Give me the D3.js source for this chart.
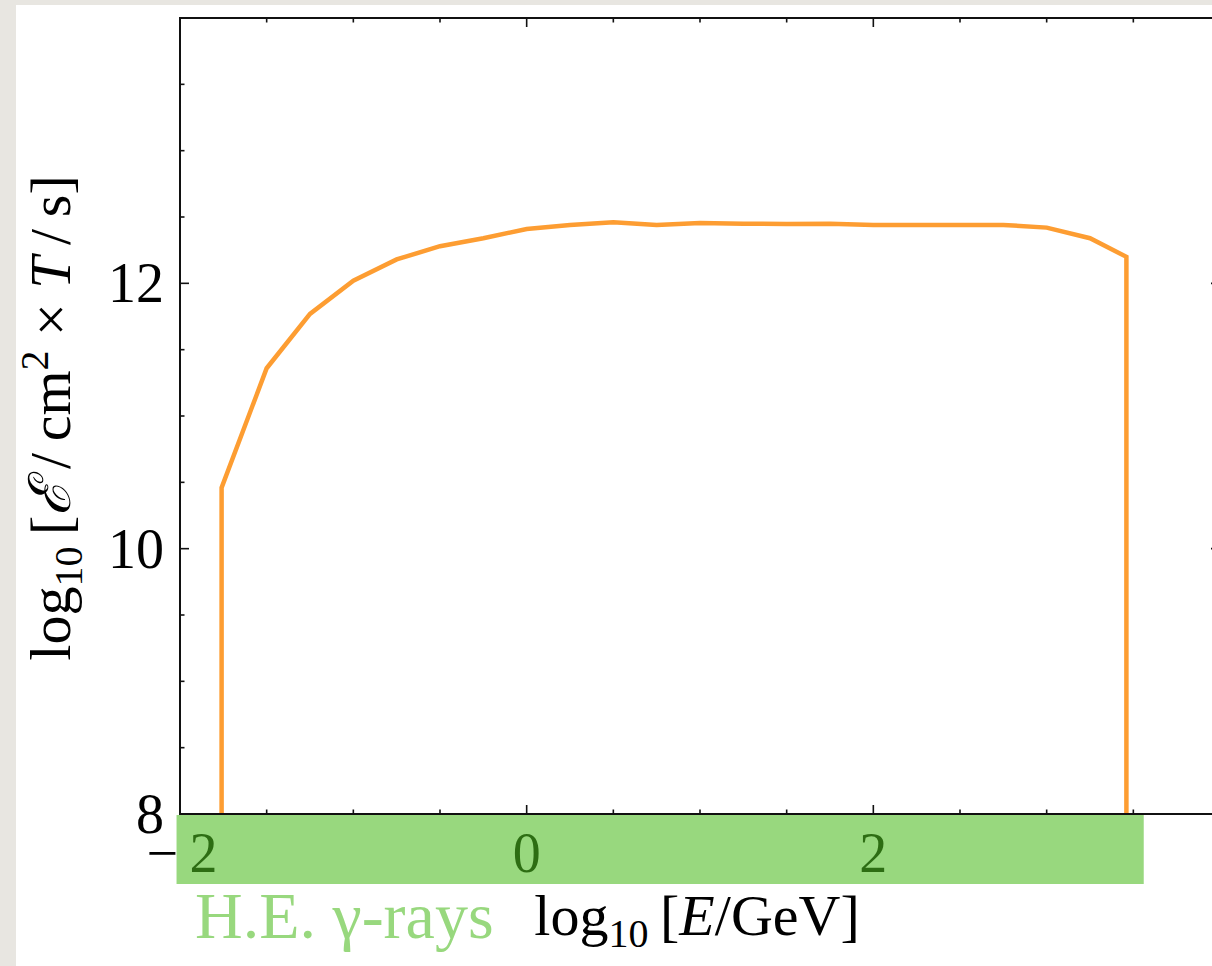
<!DOCTYPE html>
<html>
<head>
<meta charset="utf-8">
<script src="https://cdn.jsdelivr.net/npm/d3@7"></script>
<style>
  html, body { margin: 0; padding: 0; background: #e8e6e1; }
  svg { display: block; }
  text { font-family: "Liberation Serif", "DejaVu Serif", serif; }
</style>
</head>
<body>
<script>
// Exposure curve: log10 energy (GeV) vs log10 exposure (cm^2 s)
const logEnergy = [-1.76, -1.76, -1.5, -1.25, -1.0, -0.75, -0.5, -0.25, 0.0, 0.25, 0.5, 0.75,
                   1.0, 1.25, 1.5, 1.75, 2.0, 2.25, 2.5, 2.75, 3.0, 3.25, 3.46, 3.46];
const logExposure = [8.0, 10.46, 11.36, 11.77, 12.02, 12.18, 12.28, 12.34, 12.41, 12.44, 12.46, 12.44,
                     12.455, 12.45, 12.447, 12.45, 12.44, 12.44, 12.44, 12.44, 12.42, 12.34, 12.20, 8.0];

// Energy band shown under the axis
const bandName = "H.E. \u03b3-rays";
const bandRange = [-2.02, 3.56];

const xTickLabels = [-2, 0, 2];
const yTickLabels = [8, 10, 12];

const W = 1212, H = 966;
const plotLeft = 180, plotTop = 18, plotRight = 1220, plotBottom = 814;

const svg = d3.select("body").append("svg").attr("width", W).attr("height", H);

// white page area
svg.append("rect").attr("x", 16).attr("y", 5).attr("width", W - 16).attr("height", H - 5).attr("fill", "#ffffff");

const x = d3.scaleLinear().domain([-2, 4]).range([plotLeft, plotRight]);
const y = d3.scaleLinear().domain([8, 14]).range([plotBottom, plotTop]);

const major = 9, minor = 4.5;
const isMajor = v => Math.abs(v / 2 - Math.round(v / 2)) < 1e-6;
const xMajor = d3.range(-2, 4.01, 2);
const xMinor = d3.range(-2, 4.01, 0.5).filter(v => !isMajor(v));
const yMajor = d3.range(8, 14.01, 2);
const yMinor = d3.range(8, 14.01, 0.5).filter(v => !isMajor(v));

const ticks = svg.append("g").attr("stroke", "#111").attr("stroke-width", 1.6);
function addXTicks(vals, len) {
  vals.forEach(v => {
    ticks.append("line").attr("x1", x(v)).attr("x2", x(v)).attr("y1", plotBottom).attr("y2", plotBottom - len);
    ticks.append("line").attr("x1", x(v)).attr("x2", x(v)).attr("y1", plotTop).attr("y2", plotTop + len);
  });
}
function addYTicks(vals, len) {
  vals.forEach(v => {
    ticks.append("line").attr("x1", plotLeft).attr("x2", plotLeft + len).attr("y1", y(v)).attr("y2", y(v));
    ticks.append("line").attr("x1", plotRight).attr("x2", plotRight - len).attr("y1", y(v)).attr("y2", y(v));
  });
}
addXTicks(xMajor, major); addXTicks(xMinor, minor);
addYTicks(yMajor, major); addYTicks(yMinor, minor);

// curve
const line = d3.line().x((d, i) => x(logEnergy[i])).y(d => y(d));
svg.append("path").datum(logExposure)
  .attr("d", line)
  .attr("fill", "none")
  .attr("stroke", "#fd9d32")
  .attr("stroke-width", 4.5)
  .attr("stroke-linejoin", "miter");

// frame
svg.append("rect").attr("x", plotLeft).attr("y", plotTop)
  .attr("width", plotRight - plotLeft).attr("height", plotBottom - plotTop)
  .attr("fill", "none").attr("stroke", "#111").attr("stroke-width", 2);

// tick labels
svg.append("g").selectAll("text").data(yTickLabels).join("text")
  .attr("x", 164).attr("y", d => y(d)).attr("dy", "0.34em")
  .attr("text-anchor", "end").attr("font-size", 56).attr("fill", "#000")
  .text(d => d);

svg.append("g").selectAll("text").data(xTickLabels).join("text")
  .attr("x", d => x(d) + (d < 0 ? 2 : 0)).attr("y", 872)
  .attr("text-anchor", "middle").attr("font-size", 56).attr("fill", "#000")
  .text(d => d < 0 ? "\u2212\u2009" + Math.abs(d) : d);

// translucent energy band over the x tick labels
const bandColor = "rgb(78,188,33)";
svg.append("rect")
  .attr("x", x(bandRange[0])).attr("y", 815)
  .attr("width", x(bandRange[1]) - x(bandRange[0])).attr("height", 69)
  .attr("fill", bandColor).attr("fill-opacity", 0.58);

svg.append("text").attr("x", 195).attr("y", 938)
  .attr("font-size", 66).attr("fill", bandColor).attr("fill-opacity", 0.58)
  .text(bandName);

// x axis label
const xl = svg.append("text").attr("x", 697).attr("y", 935)
  .attr("text-anchor", "middle").attr("font-size", 58).attr("fill", "#000");
xl.append("tspan").text("log");
xl.append("tspan").attr("font-size", 40).attr("dy", 12).text("10");
xl.append("tspan").attr("dy", -12).text("\u2009[");
xl.append("tspan").attr("font-style", "italic").text("E");
xl.append("tspan").text("/GeV]");

// y axis label
const yl = svg.append("text").attr("transform", "translate(70,418) rotate(-90)")
  .attr("text-anchor", "middle").attr("font-size", 58).attr("fill", "#000");
yl.append("tspan").text("log");
yl.append("tspan").attr("font-size", 40).attr("dy", 12).text("10");
yl.append("tspan").attr("dy", -12).text("\u2009[");
yl.append("tspan").attr("font-style", "italic").text("\u2130");
yl.append("tspan").text("\u2009/\u2009cm");
yl.append("tspan").attr("font-size", 40).attr("dy", -22).text("2");
yl.append("tspan").attr("dy", 22).text(" \u00d7 ");
yl.append("tspan").attr("font-style", "italic").text("T");
yl.append("tspan").text("\u2009/\u2009s]");
</script>
</body>
</html>
